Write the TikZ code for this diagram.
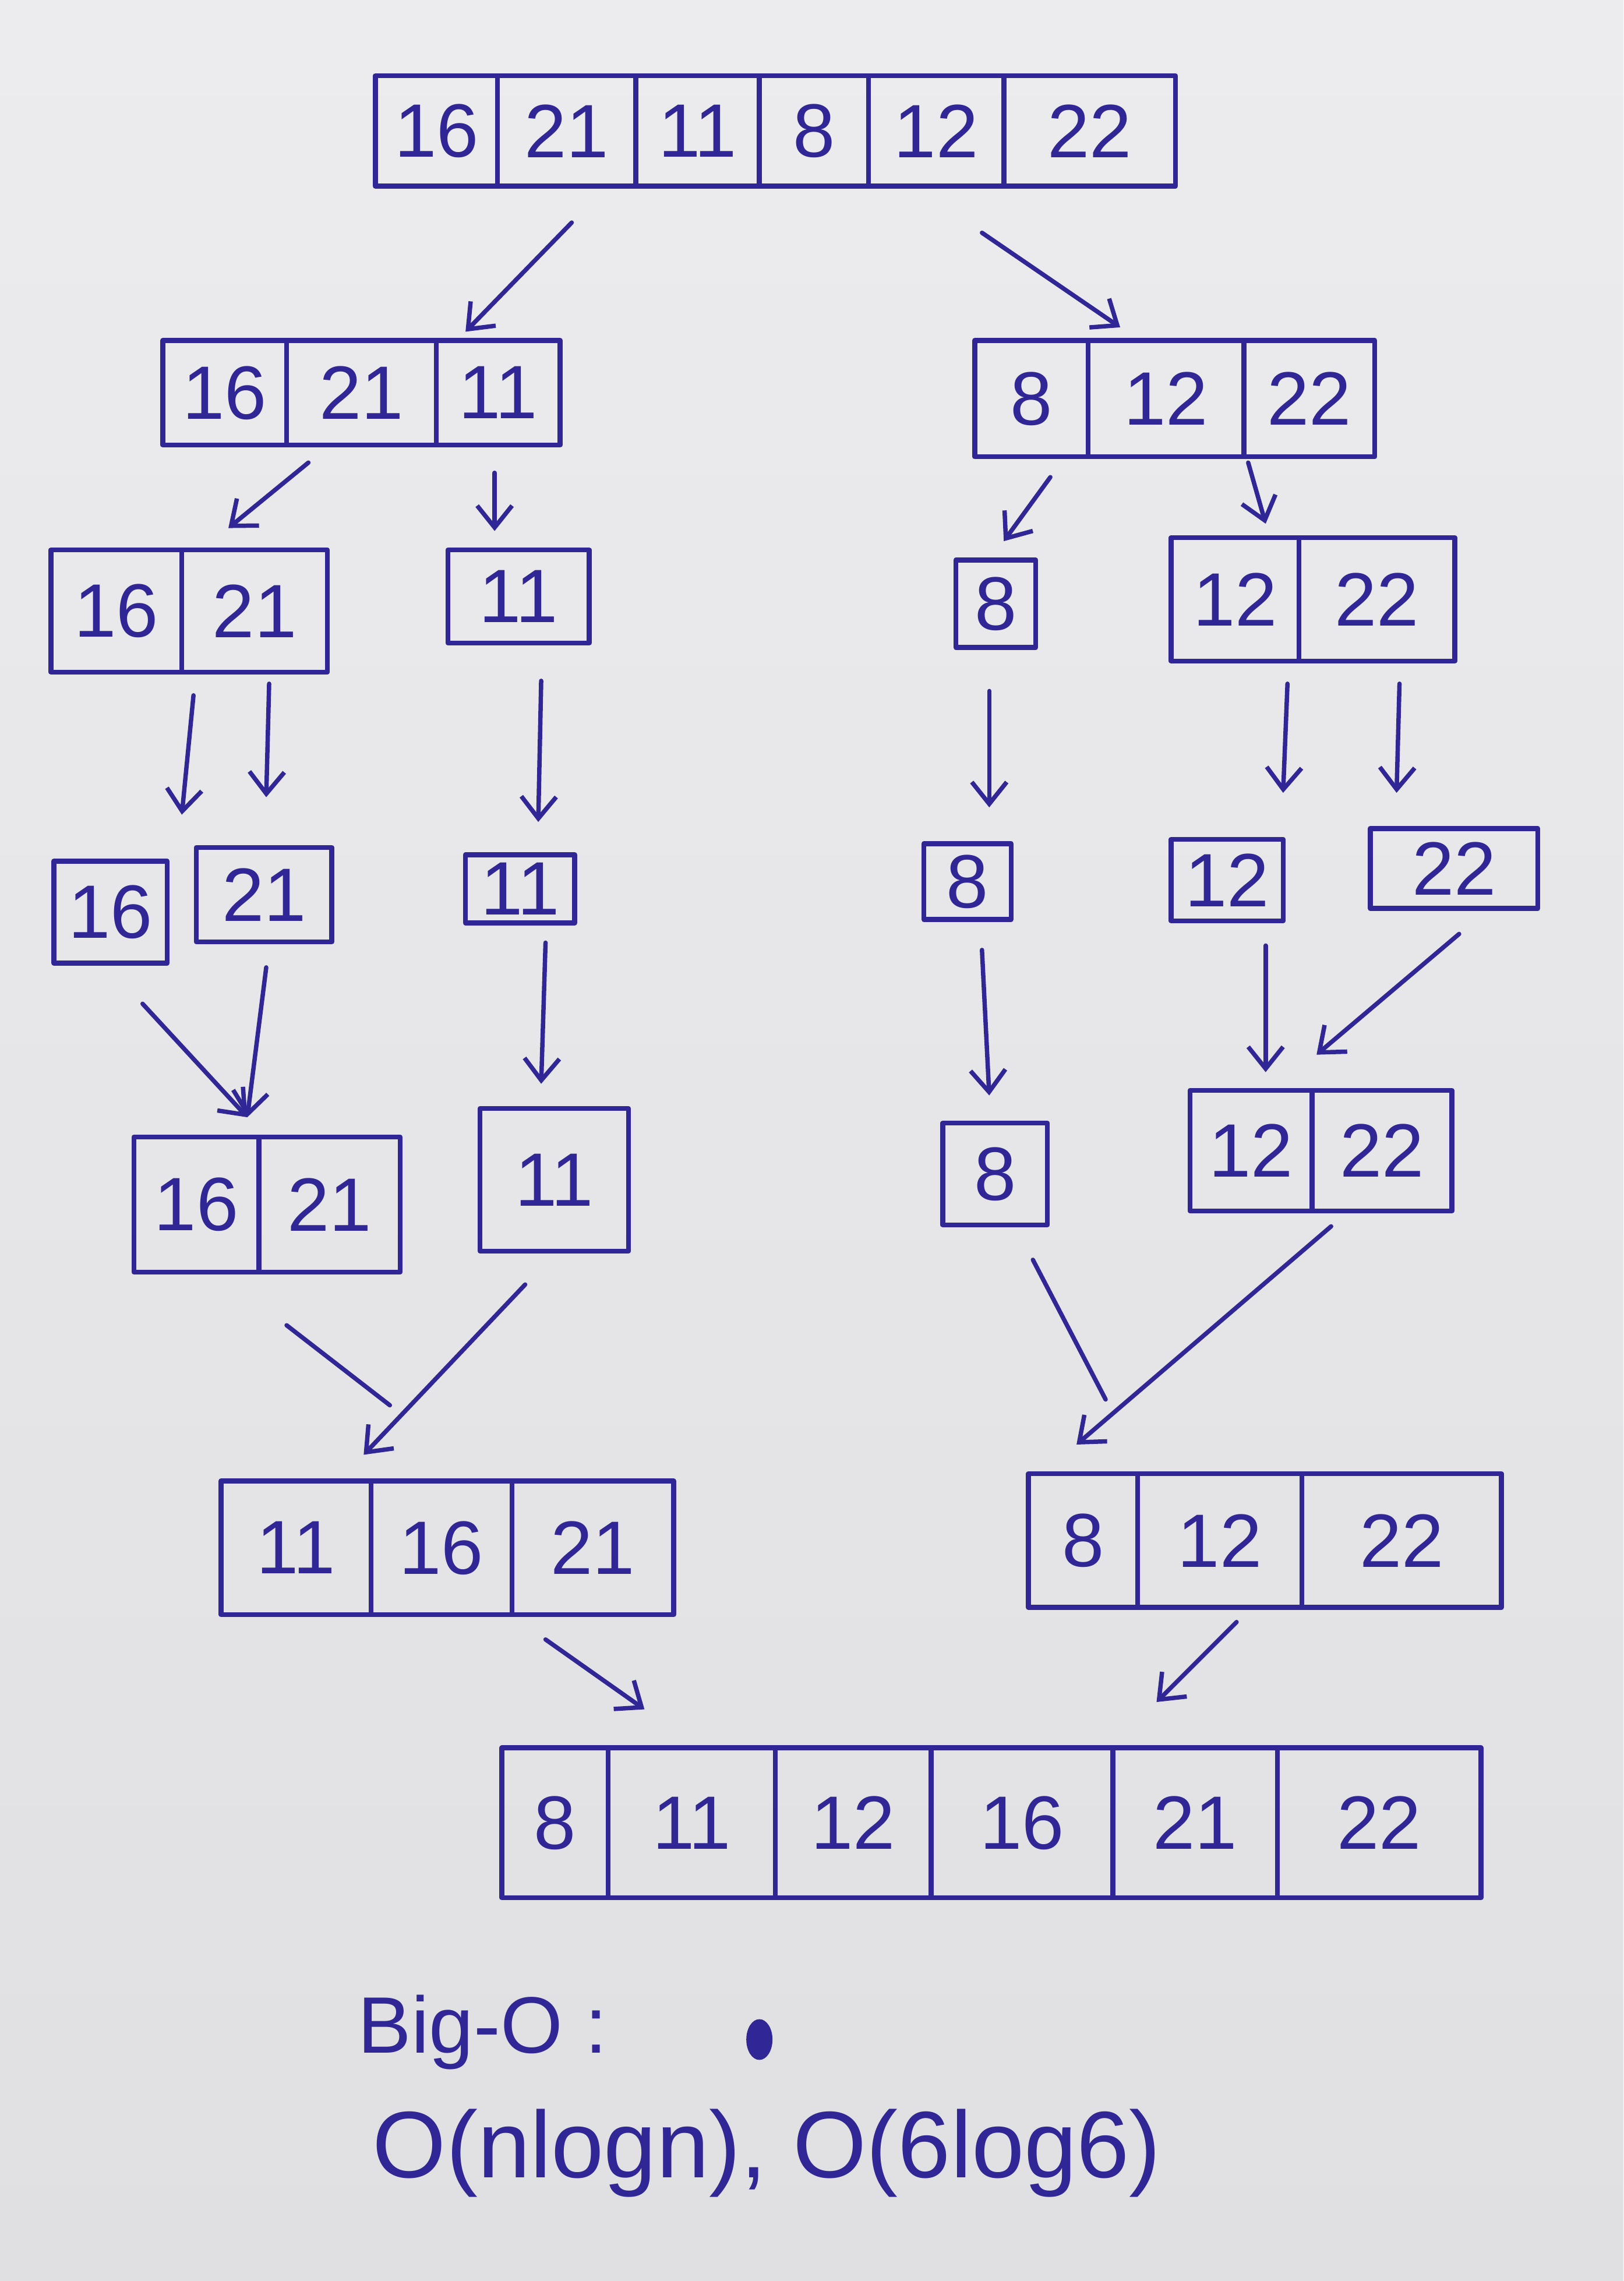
\documentclass[tikz,border=0pt]{standalone}
\usepackage{fontspec}
\setmainfont{Liberation Sans}
\usetikzlibrary{arrows.meta}
\definecolor{ink}{RGB}{48,38,150}
\definecolor{paperA}{RGB}{236,236,238}
\definecolor{paperB}{RGB}{224,224,227}
\begin{document}
\begin{tikzpicture}[x=1pt,y=-1pt,
  cell/.style={draw=ink, line width=3.4pt, text=ink, inner sep=0pt,
    font=\fontsize{52}{60}\selectfont, line join=round},
  arr/.style={draw=ink, line width=3pt, line cap=round,
    -{Straight Barb[length=15pt,width=24pt]}},
  link/.style={draw=ink, line width=3pt, line cap=round},
  note/.style={text=ink, inner sep=0pt, anchor=west},
]
% paper
\shade[top color=paperA, bottom color=paperB] (0,0) rectangle (1116,1568);
\useasboundingbox (0,0) rectangle (1116,1568);

% ---- unsorted input
\node[cell, minimum width=84pt,  minimum height=76pt] (t1) at (300,90)   {16};
\node[cell, minimum width=95pt,  minimum height=76pt] (t2) at (389.5,90) {21};
\node[cell, minimum width=85pt,  minimum height=76pt] (t3) at (479.5,90) {11};
\node[cell, minimum width=75pt,  minimum height=76pt] (t4) at (559.5,90) {8};
\node[cell, minimum width=93pt,  minimum height=76pt] (t5) at (643.5,90) {12};
\node[cell, minimum width=118pt, minimum height=76pt] (t6) at (749,90)   {22};

% ---- first split
\node[cell, minimum width=85pt,  minimum height=72pt] (a1) at (154.5,270) {16};
\node[cell, minimum width=103pt, minimum height=72pt] (a2) at (248.5,270) {21};
\node[cell, minimum width=85pt,  minimum height=72pt] (a3) at (342.5,270) {11};

\node[cell, minimum width=78pt,  minimum height=80pt] (b1) at (709,274)   {8};
\node[cell, minimum width=107pt, minimum height=80pt] (b2) at (801.5,274) {12};
\node[cell, minimum width=90pt,  minimum height=80pt] (b3) at (900,274)   {22};

% ---- second split
\node[cell, minimum width=90pt,  minimum height=84pt] (c1) at (80,420)  {16};
\node[cell, minimum width=100pt, minimum height=84pt] (c2) at (175,420) {21};
\node[cell, minimum width=97pt,  minimum height=64pt] (d1) at (356.5,410) {11};
\node[cell, minimum width=55pt,  minimum height=60pt] (e1) at (684.5,415) {8};
\node[cell, minimum width=88pt,  minimum height=85pt] (f1) at (849,412)   {12};
\node[cell, minimum width=107pt, minimum height=85pt] (f2) at (946.5,412) {22};

% ---- single elements
\node[cell, minimum width=78pt,  minimum height=70pt] (g1) at (76,627)    {16};
\node[cell, minimum width=93pt,  minimum height=65pt] (h1) at (181.5,615) {21};
\node[cell, minimum width=75pt,  minimum height=47pt] (i1) at (357.5,611) {11};
\node[cell, minimum width=60pt,  minimum height=52pt] (j1) at (665,606)   {8};
\node[cell, minimum width=77pt,  minimum height=56pt] (k1) at (843.5,605) {12};
\node[cell, minimum width=115pt, minimum height=55pt] (l1) at (999.5,597) {22};

% ---- first merge
\node[cell, minimum width=86pt,  minimum height=93pt] (m1) at (135,828)   {16};
\node[cell, minimum width=97pt,  minimum height=93pt] (m2) at (226.5,828) {21};
\node[cell, minimum width=102pt, minimum height=98pt] (n1) at (381,811)   {11};
\node[cell, minimum width=72pt,  minimum height=70pt] (o1) at (684,807)   {8};
\node[cell, minimum width=84pt,  minimum height=83pt] (p1) at (860,791)   {12};
\node[cell, minimum width=96pt,  minimum height=83pt] (p2) at (950,791)   {22};

% ---- second merge
\node[cell, minimum width=103pt, minimum height=92pt] (q1) at (203.5,1064) {11};
\node[cell, minimum width=97pt,  minimum height=92pt] (q2) at (303.5,1064) {16};
\node[cell, minimum width=111pt, minimum height=92pt] (q3) at (407.5,1064) {21};

\node[cell, minimum width=75pt,  minimum height=92pt] (r1) at (744.5,1059) {8};
\node[cell, minimum width=113pt, minimum height=92pt] (r2) at (838.5,1059) {12};
\node[cell, minimum width=137pt, minimum height=92pt] (r3) at (963.5,1059) {22};

% ---- sorted result
\node[cell, minimum width=73pt,  minimum height=103pt] (s1) at (381.5,1253) {8};
\node[cell, minimum width=115pt, minimum height=103pt] (s2) at (475.5,1253) {11};
\node[cell, minimum width=107pt, minimum height=103pt] (s3) at (586.5,1253) {12};
\node[cell, minimum width=125pt, minimum height=103pt] (s4) at (702.5,1253) {16};
\node[cell, minimum width=113pt, minimum height=103pt] (s5) at (821.5,1253) {21};
\node[cell, minimum width=140pt, minimum height=103pt] (s6) at (948,1253)   {22};

% ---- arrow end points
\coordinate (tA0) at (393,153);  \coordinate (tA1) at (320,228);
\coordinate (tB0) at (675,160);  \coordinate (tB1) at (770,225);
\coordinate (aC0) at (212,318);  \coordinate (aC1) at (157,363);
\coordinate (aD0) at (340,325);  \coordinate (aD1) at (340,365);
\coordinate (bE0) at (722,328);  \coordinate (bE1) at (690,372);
\coordinate (bF0) at (858,318);  \coordinate (bF1) at (870,360);
\coordinate (cG0) at (133,478);  \coordinate (cG1) at (125,560);
\coordinate (cH0) at (185,470);  \coordinate (cH1) at (183,548);
\coordinate (dI0) at (372,468);  \coordinate (dI1) at (370,565);
\coordinate (eJ0) at (680,475);  \coordinate (eJ1) at (680,555);
\coordinate (fK0) at (885,470);  \coordinate (fK1) at (882,545);
\coordinate (fL0) at (962,470);  \coordinate (fL1) at (960,545);
\coordinate (hM0) at (183,665);  \coordinate (hM1) at (170,768);
\coordinate (gM0) at (98,690);
\coordinate (iN0) at (375,648);  \coordinate (iN1) at (372,745);
\coordinate (jO0) at (675,653);  \coordinate (jO1) at (680,753);
\coordinate (kP0) at (870,650);  \coordinate (kP1) at (870,737);
\coordinate (lP0) at (1003,642); \coordinate (lP1) at (905,725);
\coordinate (mQ0) at (197,911);  \coordinate (mQj) at (268,966);
\coordinate (nQ0) at (361,883);  \coordinate (nQ1) at (250,1000);
\coordinate (oR0) at (710,866);  \coordinate (oRj) at (760,962);
\coordinate (pR0) at (915,843);  \coordinate (pR1) at (740,993);
\coordinate (qS0) at (375,1127); \coordinate (qS1) at (443,1175);
\coordinate (rS0) at (850,1115); \coordinate (rS1) at (795,1170);

% ---- split arrows
\draw[arr] (tA0) -- (tA1);
\draw[arr] (tB0) -- (tB1);
\draw[arr] (aC0) -- (aC1);
\draw[arr] (aD0) -- (aD1);
\draw[arr] (bE0) -- (bE1);
\draw[arr] (bF0) -- (bF1);
\draw[arr] (cG0) -- (cG1);
\draw[arr] (cH0) -- (cH1);
\draw[arr] (dI0) -- (dI1);
\draw[arr] (eJ0) -- (eJ1);
\draw[arr] (fK0) -- (fK1);
\draw[arr] (fL0) -- (fL1);

% ---- merge arrows
\draw[arr] (hM0) -- (hM1);
\draw[arr] (gM0) -- (hM1);
\draw[arr] (iN0) -- (iN1);
\draw[arr] (jO0) -- (jO1);
\draw[arr] (kP0) -- (kP1);
\draw[arr] (lP0) -- (lP1);
\draw[link] (mQ0) -- (mQj);
\draw[arr] (nQ0) -- (nQ1);
\draw[link] (oR0) -- (oRj);
\draw[arr] (pR0) -- (pR1);
\draw[arr] (qS0) -- (qS1);
\draw[arr] (rS0) -- (rS1);

% ---- complexity note
\node[note, font=\fontsize{55}{60}\selectfont] (bigo) at (246,1397) {Big-O :};
\fill[ink] (522,1402) ellipse [x radius=9pt, y radius=14pt];
\node[note, font=\fontsize{65}{70}\selectfont] (cost) at (256,1480) {O(nlogn), O(6log6)};
\end{tikzpicture}
\end{document}
